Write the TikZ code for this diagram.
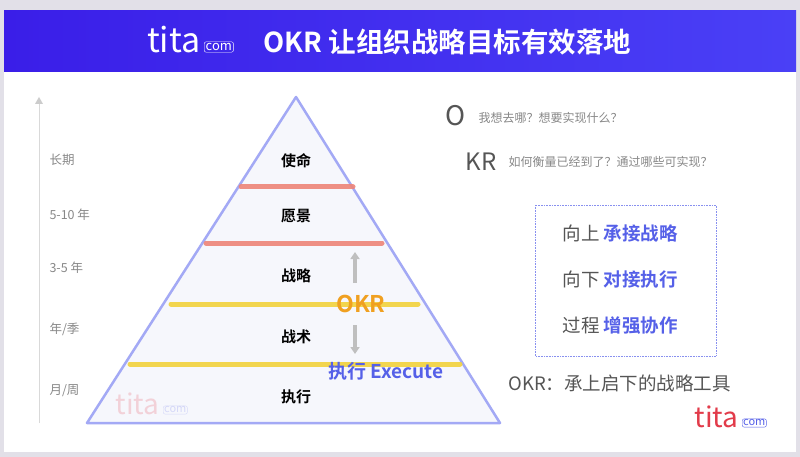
\documentclass[tikz,border=0pt]{standalone}
\usepackage{fontspec}
\setmainfont{Noto Sans CJK SC}
\newfontfamily\cjkb{Noto Sans CJK SC Bold}
\usetikzlibrary{arrows.meta}
\definecolor{bgg}{HTML}{E2E0E8}
\definecolor{hdA}{HTML}{3A1EE8}
\definecolor{hdB}{HTML}{4A40F6}
\definecolor{pyfill}{HTML}{F6F7FC}
\definecolor{pyline}{HTML}{A3A9F5}
\definecolor{redst}{HTML}{EE8478}
\definecolor{yelst}{HTML}{F2D23C}
\definecolor{okror}{HTML}{F0A020}
\definecolor{blu}{HTML}{5560E8}
\definecolor{txg}{HTML}{555555}
\definecolor{lgr}{HTML}{888888}
\definecolor{titared}{HTML}{E23B4A}
\tikzset{
  stripe/.style={line width=5pt,line cap=round,opacity=.9},
  lvl/.style={font=\fontsize{15}{15}\cjkb\selectfont,text=black},
  side/.style={font=\fontsize{12.5}{13}\selectfont,text=lgr,anchor=west},
  qtext/.style={font=\fontsize{12}{12}\selectfont,text=lgr,anchor=west},
  row/.style={font=\fontsize{18.5}{19}\selectfont,text=txg,anchor=west},
  sarrow/.style={-{Triangle[width=9pt,length=7pt]},line width=3.5pt,color=black!25}
}
\begin{document}
\begin{tikzpicture}[x=1pt,y=-1pt]
\useasboundingbox (0,0) rectangle (800,457);
\fill[bgg] (0,0) rectangle (800,457);
\fill[white] (4,11) rectangle (796,452);
\shade[left color=hdA,right color=hdB] (4,11) rectangle (796,72);
\node[font=\fontsize{34}{34}\selectfont,text=white,anchor=east] (hlogo) at (204,40) {tita};
\node[font=\fontsize{13}{13}\selectfont,text=white,draw=white,rounded corners=2pt,inner sep=1.5pt,anchor=west] (hcom) at (204,47) {com};
\node[font=\fontsize{27.5}{28}\cjkb\selectfont,text=white,anchor=west] (title) at (260,42) {OKR 让组织战略目标有效落地};
% axis
\draw[black!15,line width=1pt] (39,423) -- (39,100);
\fill[black!20] (35,104) -- (39,97) -- (43,104) -- cycle;
% pyramid
\filldraw[fill=pyfill,draw=pyline,line width=2.5pt,line join=round] (296,97) -- (500,423) -- (87,423) -- cycle;
\draw[stripe,redst] (241,187) -- (353,187);
\draw[stripe,redst] (206,243) -- (382,243);
\draw[stripe,yelst] (171,304) -- (418,304);
\draw[stripe,yelst] (130,364) -- (460,364);
% watermark
\node[font=\fontsize{28}{28}\selectfont,text=titared,opacity=.2,anchor=east] (wlogo) at (163,404) {tita};
\node[font=\fontsize{11}{11}\selectfont,text=blu,opacity=.2,draw=blu,draw opacity=.2,rounded corners=2pt,inner sep=1pt,anchor=west] (wcom) at (163,410) {com};
% level labels
\node[lvl] (l1) at (296,161) {使命};
\node[lvl] (l2) at (296,216) {愿景};
\node[lvl] (l3) at (296,276) {战略};
\node[lvl] (l4) at (296,337) {战术};
\node[lvl] (l5) at (296,397) {执行};
\node[side] (s1) at (46,160) {长期};
\node[side] (s2) at (46,215) {5-10 年};
\node[side] (s3) at (46,268) {3-5 年};
\node[side] (s4) at (46,329) {年/季};
\node[side] (s5) at (46,391) {月/周};
% okr
\node[font=\fontsize{23}{23}\cjkb\selectfont,text=okror] (okr) at (361,304) {OKR};
\coordinate (ua) at (355,283);
\coordinate (ub) at (355,252);
\coordinate (da) at (355,325);
\coordinate (db) at (355,354);
\draw[sarrow] (ua) -- (ub);
\draw[sarrow] (da) -- (db);
\node[font=\fontsize{19}{19}\cjkb\selectfont,text=blu,anchor=west] (exe) at (325,371) {执行 Execute};
% right side
\node[font=\fontsize{27}{27}\selectfont,text=txg] (o) at (456,116) {O};
\node[qtext] (oq) at (475,118) {我想去哪？想要实现什么？};
\node[font=\fontsize{24}{24}\selectfont,text=txg,anchor=west] (kr) at (462,162) {KR};
\node[qtext] (krq) at (505,162) {如何衡量已经到了？通过哪些可实现？};
\draw[blu!70,densely dotted,line width=.6pt] (535,205) rectangle (716,356);
\node[row] (r1) at (559,233) {向上 \textcolor{blu}{\cjkb 承接战略}};
\node[row] (r2) at (559,280) {向下 \textcolor{blu}{\cjkb 对接执行}};
\node[row] (r3) at (559,326) {过程 \textcolor{blu}{\cjkb 增强协作}};
\node[row] (tool) at (505,383) {OKR：承上启下的战略工具};
\node[font=\fontsize{28}{28}\selectfont,text=titared,anchor=east] (blogo) at (742,417) {tita};
\node[font=\fontsize{11}{11}\selectfont,text=blu,draw=blu,rounded corners=2pt,inner sep=1pt,anchor=west] (bcom) at (742,423) {com};
\end{tikzpicture}
\end{document}
